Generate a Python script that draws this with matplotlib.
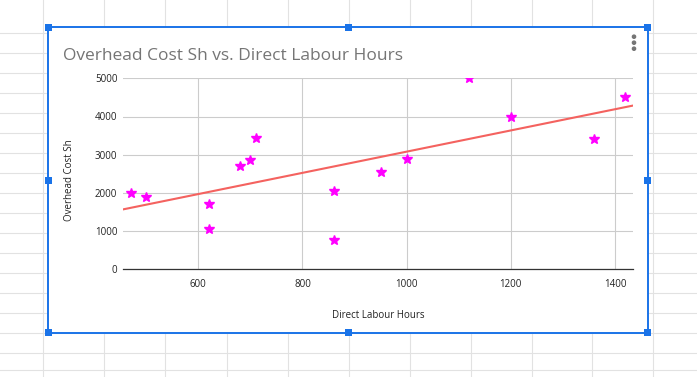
import numpy as np
import matplotlib
matplotlib.use("Agg")
import matplotlib.pyplot as plt
from matplotlib.patches import Rectangle, Circle

# data
hours = [470, 500, 620, 620, 680, 700, 710, 860, 860, 950, 1000, 1120, 1200, 1360, 1420]
cost = [2000, 1900, 1700, 1050, 2700, 2850, 3450, 2050, 780, 2560, 2900, 5000, 4000, 3400, 4500]
x_ticks = [600, 800, 1000, 1200, 1400]
y_ticks = [0, 1000, 2000, 3000, 4000, 5000]

W, H = 697, 377
plt.rcParams["font.family"] = ["Open Sans", "DejaVu Sans"]

fig = plt.figure(figsize=(W / 100, H / 100), dpi=100)

# spreadsheet background (pixel coordinates)
bg = fig.add_axes([0, 0, 1, 1], zorder=0)
bg.set_xlim(0, W)
bg.set_ylim(H, 0)
bg.axis("off")
cols = [43.3, 104.3, 165.4, 226.6, 287.6, 348.6, 409.6, 470.6, 531.6, 592.4, 653.3]
rows = [33.3, 53.3, 73.3, 93.3, 113.3, 133.3, 153.3, 173.3, 193.3, 213.3, 233.3,
        253.3, 273.3, 293.3, 313.3, 333.3, 353.3, 370]
for c in cols:
    bg.plot([c, c], [0, H], color="#e2e2e2", lw=0.8)
for r in rows:
    bg.plot([0, W], [r, r], color="#e2e2e2", lw=0.8)

# chart card
x0, y0, x1, y1 = 48.3, 27.3, 647.7, 332.7
bg.add_patch(Rectangle((x0, y0), x1 - x0, y1 - y0, facecolor="white",
                       edgecolor="#1a73e8", lw=1.4, zorder=3))
for hx, hy in [(x0, y0), ((x0 + x1) / 2, y0), (x1, y0), (x0, (y0 + y1) / 2),
               (x1, (y0 + y1) / 2), (x0, y1), ((x0 + x1) / 2, y1), (x1, y1)]:
    bg.add_patch(Rectangle((hx - 3.5, hy - 3.5), 7, 7, facecolor="#1a73e8",
                           edgecolor="none", zorder=4))
for dy in [36.7, 42.7, 48.7]:
    bg.add_patch(Circle((634, dy), 1.6, color="#757575", zorder=4))

bg.text(63.3, 59.5, "Overhead Cost Sh vs. Direct Labour Hours", fontsize=12.5,
        color="#757575", ha="left", va="baseline", zorder=5)
bg.text(378.6, 315.4, "Direct Labour Hours", fontsize=7, color="#222222",
        ha="center", va="center", zorder=5)
bg.text(69.3, 180, "Overhead Cost Sh", fontsize=7, color="#222222",
        ha="center", va="center", rotation=90, zorder=5)

# plot area
left, right, top, bottom = 123.3, 632.7, 78.3, 269.3
ax = fig.add_axes([left / W, 1 - bottom / H, (right - left) / W, (bottom - top) / H], zorder=2)
ax.patch.set_alpha(0)
ax.set_xlim(456, 1434)
ax.set_ylim(0, 5000)
ax.set_xticks(x_ticks)
ax.set_yticks(y_ticks)
ax.tick_params(length=0, labelsize=7, labelcolor="#222222")
ax.tick_params(axis="y", pad=4.3)
ax.tick_params(axis="x", pad=7)
ax.grid(True, color="#cccccc", lw=0.8)
ax.set_axisbelow(True)
for s in ["top", "right", "left"]:
    ax.spines[s].set_visible(False)
ax.spines["bottom"].set_color("#333333")
ax.spines["bottom"].set_linewidth(0.9)

coef = np.polyfit(hours, cost, 1)
xl = np.array(ax.get_xlim())
ax.plot(xl, np.polyval(coef, xl), color="#f4625f", lw=1.5, zorder=3)
ax.plot(hours, cost, linestyle="none", marker="*", markersize=7,
        color="#ff00ff", zorder=4)

fig.savefig("out.png", dpi=100)
